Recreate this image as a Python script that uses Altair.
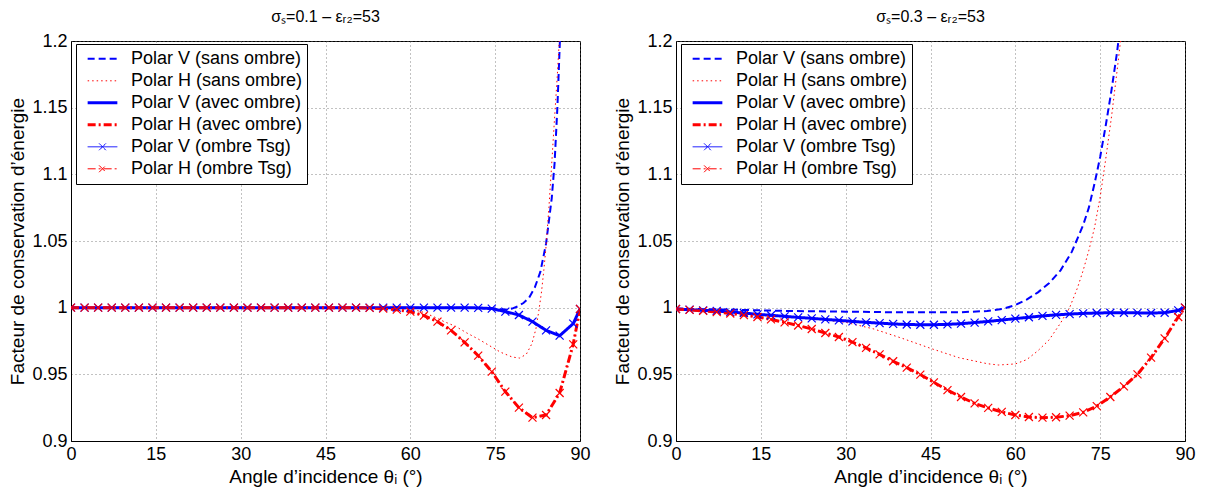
import altair as alt
import pandas as pd

# ---------------- data ----------------
SERIES = [
    "Polar V (sans ombre)",
    "Polar H (sans ombre)",
    "Polar V (avec ombre)",
    "Polar H (avec ombre)",
    "Polar V (ombre Tsg)",
    "Polar H (ombre Tsg)",
]
COLORS = ["#0000ff", "#ff0000", "#0000ff", "#ff0000", "#0000ff", "#ff0000"]
DASHES = [[7, 4], [1.5, 3], [1, 0], [8, 3, 2, 3], [1, 0], [8, 3, 2, 3]]
WIDTHS = [2, 1, 3, 3, 1, 1]

X_TICKS = [0, 15, 30, 45, 60, 75, 90]
Y_TICKS = [0.9, 0.95, 1.0, 1.05, 1.1, 1.15, 1.2]

# sampled angles (with markers) shared by "avec ombre" and "ombre Tsg"
T_ANGLES = [0, 2.4, 4.8, 7.2, 9.6, 12, 14.4, 16.8, 19.2, 21.6, 24, 26.4, 28.8,
            31.2, 33.6, 36, 38.4, 40.8, 43.2, 45.6, 48, 50.4, 52.8, 55.2, 57.6,
            60, 62.4, 64.8, 67.2, 69.6, 72, 74.4, 76.8, 79.2, 81.6, 84, 86.4,
            88.8, 90]

# ---- left panel: sigma_s = 0.1 ----
L_V_SANS_ANG = [0, 10, 20, 30, 40, 50, 60, 70, 74, 76, 77, 78, 79, 80, 81, 82,
                83, 84, 85, 85.5, 86, 86.4, 86.8]
L_V_SANS = [1.0, 1.0, 1.0, 1.0, 1.0, 1.0, 1.0, 1.0, 0.9995, 0.9988, 0.9986,
            0.9993, 1.001, 1.0035, 1.0075, 1.015, 1.027, 1.048, 1.082, 1.108,
            1.15, 1.195, 1.24]
L_H_SANS_ANG = [0, 10, 20, 30, 40, 50, 55, 60, 62, 64, 66, 68, 70, 72, 74, 76,
                78, 79.3, 80.5, 81.5, 82.2, 82.7, 83.2, 83.6, 84, 84.5, 85,
                85.5, 86, 86.4, 86.8]
L_H_SANS = [1.0, 1.0, 1.0, 1.0, 1.0, 1.0, 0.9997, 0.999, 0.997, 0.9935, 0.9895,
            0.986, 0.981, 0.9765, 0.9715, 0.9665, 0.963, 0.9622, 0.965, 0.973,
            0.984, 0.997, 1.012, 1.028, 1.046, 1.075, 1.108, 1.142, 1.175,
            1.205, 1.24]
L_V_AVEC = [1.0, 1.0, 1.0, 1.0, 1.0, 1.0, 1.0, 1.0, 1.0, 1.0, 1.0, 1.0, 1.0,
            1.0, 1.0, 1.0, 1.0, 1.0, 1.0, 1.0, 1.0, 1.0, 1.0, 1.0, 1.0, 1.0,
            1.0, 1.0, 1.0, 1.0, 0.9998, 0.9993, 0.997, 0.9945, 0.9895, 0.983,
            0.979, 0.988, 0.999]
L_H_AVEC = [1.0, 1.0, 1.0, 1.0, 1.0, 1.0, 1.0, 1.0, 1.0, 1.0, 1.0, 1.0, 1.0,
            1.0, 1.0, 1.0, 1.0, 1.0, 1.0, 1.0, 1.0, 1.0, 0.9998, 0.9993,
            0.9985, 0.997, 0.994, 0.9895, 0.983, 0.974, 0.964, 0.952, 0.937,
            0.925, 0.9175, 0.9195, 0.936, 0.9725, 0.999]

# ---- right panel: sigma_s = 0.3 ----
R_V_SANS_ANG = [0, 10, 20, 30, 40, 50, 55, 58, 60, 62, 64, 66, 68, 70, 72, 73,
                74, 75, 76, 77, 78, 78.5, 79]
R_V_SANS = [0.9993, 0.9985, 0.9975, 0.997, 0.9965, 0.9965, 0.9975, 0.9993,
            1.002, 1.006, 1.0115, 1.0185, 1.028, 1.042, 1.062, 1.075, 1.093,
            1.113, 1.137, 1.163, 1.192, 1.21, 1.23]
R_H_SANS_ANG = [0, 10, 20, 30, 35, 40, 45, 50, 55, 57, 60, 62, 64, 66, 68,
                69.6, 71, 72, 73, 74, 75, 76, 77, 78, 78.6, 79.2]
R_H_SANS = [0.999, 0.9965, 0.9935, 0.989, 0.984, 0.977, 0.9695, 0.9625, 0.958,
            0.957, 0.9578, 0.961, 0.9677, 0.976, 0.9885, 1.0, 1.015, 1.028,
            1.043, 1.06, 1.083, 1.112, 1.143, 1.178, 1.2, 1.225]
R_V_AVEC = [0.999, 0.9985, 0.998, 0.9975, 0.9967, 0.996, 0.995, 0.9943,
            0.9935, 0.9927, 0.992, 0.9912, 0.9905, 0.9897, 0.989, 0.9884,
            0.9878, 0.9874, 0.9872, 0.9872, 0.9875, 0.988, 0.9888, 0.9897,
            0.9907, 0.9918, 0.9928, 0.9938, 0.9946, 0.9952, 0.9957, 0.996,
            0.9962, 0.9962, 0.9961, 0.996, 0.9962, 0.998, 1.0]
R_H_AVEC = [0.999, 0.9983, 0.9976, 0.9967, 0.9956, 0.9944, 0.993, 0.9912,
            0.989, 0.9866, 0.984, 0.981, 0.978, 0.9742, 0.9698, 0.965, 0.9598,
            0.955, 0.9498, 0.944, 0.9382, 0.933, 0.9282, 0.9248, 0.9218,
            0.9195, 0.918, 0.9175, 0.9178, 0.919, 0.9215, 0.9262, 0.933, 0.941,
            0.95, 0.9625, 0.977, 0.993, 1.0]

LINE = "M-1.65,0H1.65"
LINE_X = "M-1.65,0H1.65M-0.38,-0.38L0.38,0.38M-0.38,0.38L0.38,-0.38"
LEGEND_SHAPES = [LINE, LINE, LINE, LINE, LINE_X, LINE_X]
MARKER = "M-1,-1L1,1M-1,1L1,-1"

FONT = "Liberation Sans"


def frame(angles, values, name):
    return pd.DataFrame({"angle": angles, "value": values, "series": name})


def panel(title, v_sans_a, v_sans, h_sans_a, h_sans, v_avec, h_avec):
    lines_df = pd.concat([
        frame(v_sans_a, v_sans, SERIES[0]),
        frame(h_sans_a, h_sans, SERIES[1]),
        frame(T_ANGLES, v_avec, SERIES[2]),
        frame(T_ANGLES, h_avec, SERIES[3]),
        frame(T_ANGLES, v_avec, SERIES[4]),
        frame(T_ANGLES, h_avec, SERIES[5]),
    ], ignore_index=True)
    marks_df = pd.concat([
        frame(T_ANGLES, v_avec, SERIES[4]),
        frame(T_ANGLES, h_avec, SERIES[5]),
    ], ignore_index=True)

    legend = alt.Legend(
        title=None, orient="none", legendX=5, legendY=3,
        labelFont=FONT, labelFontSize=18, labelColor="black", labelLimit=400,
        symbolSize=324, symbolOffset=12, labelOffset=18,
        clipHeight=21.6, rowPadding=0, padding=4,
        fillColor="white", strokeColor="black", cornerRadius=0,
        symbolFillColor="transparent",
    )
    x = alt.X("angle:Q", scale=alt.Scale(domain=[0, 90], nice=False, zero=False),
              axis=alt.Axis(values=X_TICKS, labelFlush=False,
                            title="Angle d’incidence θᵢ (°)"))
    y = alt.Y("value:Q", scale=alt.Scale(domain=[0.9, 1.2], nice=False, zero=False),
              axis=alt.Axis(values=Y_TICKS, format=".2~f",
                            title="Facteur de conservation d’énergie"))
    color = alt.Color("series:N", scale=alt.Scale(domain=SERIES, range=COLORS), legend=legend)
    dash = alt.StrokeDash("series:N", scale=alt.Scale(domain=SERIES, range=DASHES), legend=legend)
    width = alt.StrokeWidth("series:N", scale=alt.Scale(type="ordinal", domain=SERIES, range=WIDTHS),
                            legend=legend)
    shape = alt.Shape("series:N", scale=alt.Scale(domain=SERIES, range=LEGEND_SHAPES), legend=legend)

    lines = alt.Chart(lines_df).mark_line(clip=True).encode(
        x=x, y=y, color=color, strokeDash=dash, strokeWidth=width,
        order="angle:Q")
    marks = alt.Chart(marks_df).mark_point(
        shape=MARKER, size=64, filled=False, strokeWidth=1.2, opacity=1, clip=True
    ).encode(x=x, y=y, color=color)
    dummy = alt.Chart(lines_df).transform_filter("false").mark_point(filled=False).encode(
        color=color, shape=shape, strokeDash=dash, strokeWidth=width)

    return alt.layer(lines, marks, dummy).properties(
        width=509, height=400,
        title=alt.TitleParams(title, fontSize=16, font=FONT, fontWeight="normal",
                              color="black", offset=7),
    )


left = panel("σₛ=0.1 – εᵣ₂=53", L_V_SANS_ANG, L_V_SANS, L_H_SANS_ANG, L_H_SANS,
             L_V_AVEC, L_H_AVEC)
right = panel("σₛ=0.3 – εᵣ₂=53", R_V_SANS_ANG, R_V_SANS, R_H_SANS_ANG, R_H_SANS,
              R_V_AVEC, R_H_AVEC)

chart = alt.hconcat(left, right, spacing=22).resolve_scale(
    color="independent", strokeDash="independent", strokeWidth="independent",
    shape="independent", x="independent", y="independent"
).resolve_legend(
    color="independent", strokeDash="independent", strokeWidth="independent",
    shape="independent"
).properties(padding=0).configure_view(
    stroke="black", strokeWidth=1
).configure_axis(
    labelFont=FONT, labelFontSize=18, labelColor="black", labelPadding=4,
    titleFont=FONT, titleFontSize=19, titleFontWeight="normal", titleColor="black",
    titlePadding=4, domainColor="black", ticks=False,
    grid=True, gridColor="#666", gridDash=[1, 3], gridOpacity=0.8,
)

chart.save("out.html", embed_options={"renderer": "svg", "actions": False})
